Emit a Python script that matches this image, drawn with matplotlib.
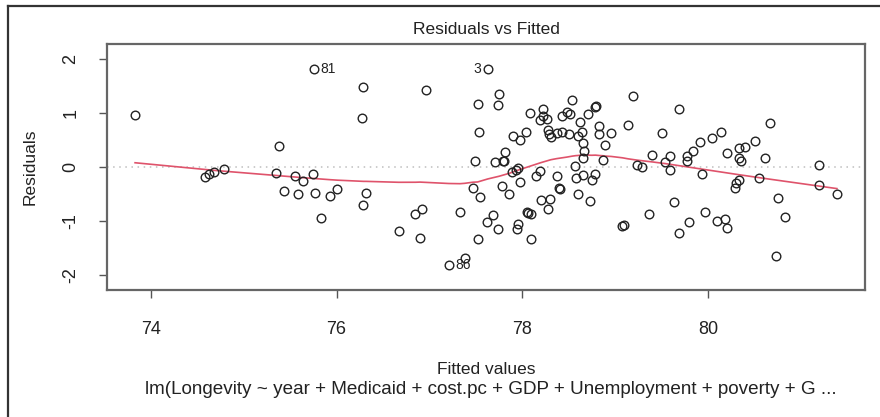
import numpy as np
import matplotlib
matplotlib.use("Agg")
import matplotlib.pyplot as plt
from matplotlib.lines import Line2D

plt.rcParams['font.family'] = ['Liberation Sans', 'DejaVu Sans']

# ---- data (fitted value, residual) ----
fitted = [
    73.83, 74.58, 74.63, 74.68, 74.79, 75.35, 75.375, 75.43, 75.55, 75.59,
    75.64, 75.75, 75.76, 75.77, 75.83, 75.93, 76.01, 76.27, 76.28, 76.29,
    76.32, 76.67, 76.85, 76.90, 76.92, 76.96, 77.21, 77.33, 77.38, 77.47,
    77.49, 77.52, 77.52, 77.53, 77.54, 77.62, 77.63, 77.69, 77.71, 77.74,
    77.75, 77.74, 77.78, 77.79, 77.80, 77.81, 77.86, 77.89, 77.90, 77.93,
    77.94, 77.96, 77.96, 77.98, 77.98, 78.04, 78.05, 78.06, 78.08, 78.09,
    78.10, 78.15, 78.19, 78.19, 78.20, 78.22, 78.22, 78.27, 78.28, 78.28,
    78.30, 78.31, 78.37, 78.37, 78.40, 78.41, 78.43, 78.43, 78.48, 78.50,
    78.51, 78.54, 78.57, 78.58, 78.60, 78.60, 78.62, 78.64, 78.65, 78.65,
    78.66, 78.67, 78.71, 78.73, 78.75, 78.78, 78.79, 78.78, 78.83, 78.83,
    78.87, 78.89, 78.96, 79.08, 79.10, 79.14, 79.19, 79.24, 79.29, 79.37,
    79.40, 79.51, 79.54, 79.59, 79.59, 79.63, 79.69, 79.69, 79.77, 79.77,
    79.80, 79.84, 79.92, 79.94, 79.97, 80.04, 80.10, 80.14, 80.18, 80.21,
    80.21, 80.29, 80.30, 80.33, 80.33, 80.34, 80.36, 80.40, 80.51, 80.55,
    80.62, 80.67, 80.73, 80.76, 80.83, 81.20, 81.20, 81.39, 78.29,
]
residuals = [
    0.955, -0.185, -0.13, -0.105, -0.05, -0.117, 0.39, -0.456, -0.18, -0.50,
    -0.26, -0.13, 1.81, -0.48, -0.94, -0.54, -0.42, 0.91, 1.48, -0.70,
    -0.49, -1.18, -0.87, -1.32, -0.79, 1.42, -1.82, -0.84, -1.69, -0.39,
    0.105, 1.16, -1.34, 0.65, -0.56, -1.03, 1.81, -0.90, 0.08, 1.14,
    1.34, -1.16, -0.36, 0.105, 0.11, 0.27, -0.50, -0.105, 0.57, -0.055,
    -1.15, -0.03, -1.06, 0.50, -0.29, 0.65, -0.83, -0.85, 1.00, -1.33,
    -0.88, -0.18, -0.07, 0.86, -0.61, 1.07, 0.93, 0.88, 0.67, -0.78,
    -0.60, 0.55, 0.63, -0.18, -0.40, -0.42, 0.65, 0.94, 1.02, 0.61,
    0.97, 1.24, 0.02, -0.20, 0.57, -0.51, 0.83, 0.65, 0.155, -0.15,
    0.44, 0.30, 0.98, -0.63, -0.24, 1.11, 1.12, -0.14, 0.76, 0.61,
    0.12, 0.40, 0.62, -1.10, -1.08, 0.78, 1.30, 0.04, -0.01, -0.88,
    0.215, 0.62, 0.08, 0.19, -0.055, -0.65, 1.06, -1.22, 0.20, 0.105,
    -1.03, 0.30, 0.46, -0.13, -0.83, 0.54, -1.00, 0.65, -0.97, 0.26,
    -1.13, -0.40, -0.31, 0.34, 0.155, -0.24, 0.105, 0.36, 0.475, -0.20,
    0.17, 0.81, -1.645, -0.585, -0.93, 0.03, -0.34, -0.51, 0.61,
]
# labelled extreme observations: (index into arrays, label)
label_idx = [12, 36, 26]
label_txt = ["81", "3", "86"]

x_ticks = [74, 76, 78, 80]
y_ticks = [-2, -1, 0, 1, 2]
y_tick_labels = ["-2", "-1", "0", "1", "2"]

title = "Residuals vs Fitted"
xlabel = "Fitted values"
ylabel = "Residuals"
subcaption = "lm(Longevity ~ year + Medicaid + cost.pc + GDP + Unemployment + poverty + G ..."


def lowess(x, y, f=2/3, iters=3):
    """R's lowess (clowess) without delta interpolation."""
    x = np.asarray(x, float)
    y = np.asarray(y, float)
    o = np.argsort(x, kind="stable")
    x, y = x[o], y[o]
    n = len(x)
    ns = max(min(int(f * n + 1e-7), n), 2)
    rng = x[-1] - x[0]
    rw = np.ones(n)
    ys = np.zeros(n)
    for it in range(iters + 1):
        nleft, nright = 0, ns - 1
        for i in range(n):
            xs = x[i]
            while nright < n - 1 and (xs - x[nleft]) > (x[nright + 1] - xs):
                nleft += 1
                nright += 1
            h = max(xs - x[nleft], x[nright] - xs)
            h9, h1 = 0.999 * h, 0.001 * h
            w = np.zeros(n)
            j = nleft
            while j < n:
                r = abs(x[j] - xs)
                if r <= h9:
                    if r <= h1:
                        w[j] = 1.0
                    else:
                        w[j] = (1 - (r / h) ** 3) ** 3
                    w[j] *= rw[j]
                elif x[j] > xs:
                    break
                j += 1
            sw = w.sum()
            if sw <= 0:
                ys[i] = y[i]
                continue
            w = w / sw
            if h > 0:
                a = np.sum(w * x)
                b = xs - a
                c = np.sum(w * (x - a) ** 2)
                if np.sqrt(c) > 0.001 * rng:
                    b = b / c
                    w = w * (b * (x - a) + 1.0)
            ys[i] = np.sum(w * y)
        if it == iters:
            break
        res = y - ys
        cmad = 6 * np.median(np.abs(res))
        if cmad < 1e-7 * np.mean(np.abs(y)):
            break
        c9, c1 = 0.999 * cmad, 0.001 * cmad
        r = np.abs(res)
        rw = np.where(r <= c1, 1.0, np.where(r <= c9, (1 - (r / cmad) ** 2) ** 2, 0.0))
    return x, ys


def extend(lo, hi, f):
    d = hi - lo
    return lo - f * d, hi + f * d


W, H = 880, 417
fig = plt.figure(figsize=(W / 100, H / 100), dpi=100)
L, R, T, B = 107, 865, 44, 290
ax = fig.add_axes([L / W, 1 - B / H, (R - L) / W, (B - T) / H])

fx = np.array(fitted)
ry = np.array(residuals)
# R: plot.lm extends the residual range by 8% for labels, then par usr adds 4%
ax.set_xlim(*extend(fx.min(), fx.max(), 0.04))
ax.set_ylim(*extend(*extend(ry.min(), ry.max(), 0.08), 0.04))

ax.axhline(0, color="#BEBEBE", lw=1.1, ls=(0, (1, 3)), zorder=1)
ax.plot(fx, ry, ls="none", marker="o", ms=6.2, mfc="none", mec="#222222", mew=1.0, zorder=3)
sx, sy = lowess(fx, ry)
ax.plot(sx, sy, color="#DF536B", lw=1.2, zorder=2)

for i, t in zip(label_idx, label_txt):
    ha = "left" if fx[i] < (fx.min() + fx.max()) / 2 else "right"
    ax.annotate(t, (fx[i], ry[i]), xytext=(4.5 if ha == "left" else -4.5, 0),
                textcoords="offset points", ha=ha, va="center", fontsize=10, color="#222222")

ax.set_xticks(x_ticks)
ax.set_xticklabels([str(v) for v in x_ticks])
ax.set_yticks(y_ticks)
ax.set_yticklabels(y_tick_labels, rotation=90, va="center")
ax.tick_params(direction="out", length=6, width=1, colors="#555555", labelcolor="#222222",
               labelsize=13, pad=14)
ax.tick_params(axis="x", pad=16)
for s in ax.spines.values():
    s.set_color("#666666")
    s.set_linewidth(1.6)

fig.text(486 / W, 1 - 29 / H, title, ha="center", va="center", fontsize=12.5, color="#222222")
fig.text(486 / W, 1 - 370 / H, xlabel, ha="center", va="center", fontsize=12.5, color="#222222")
fig.text(491 / W, 1 - 389 / H, subcaption, ha="center", va="center", fontsize=13.6, color="#222222")
fig.text(30 / W, 1 - 167 / H, ylabel, ha="center", va="center", rotation=90, fontsize=12.5, color="#222222")

# screenshot frame (left and top edges)
fig.add_artist(Line2D([8 / W, 8 / W], [0, 1 - 6 / H], transform=fig.transFigure, color="#333333", lw=1.6))
fig.add_artist(Line2D([8 / W, 1], [1 - 6 / H, 1 - 6 / H], transform=fig.transFigure, color="#333333", lw=1.6))

fig.savefig("out.png", dpi=100)
